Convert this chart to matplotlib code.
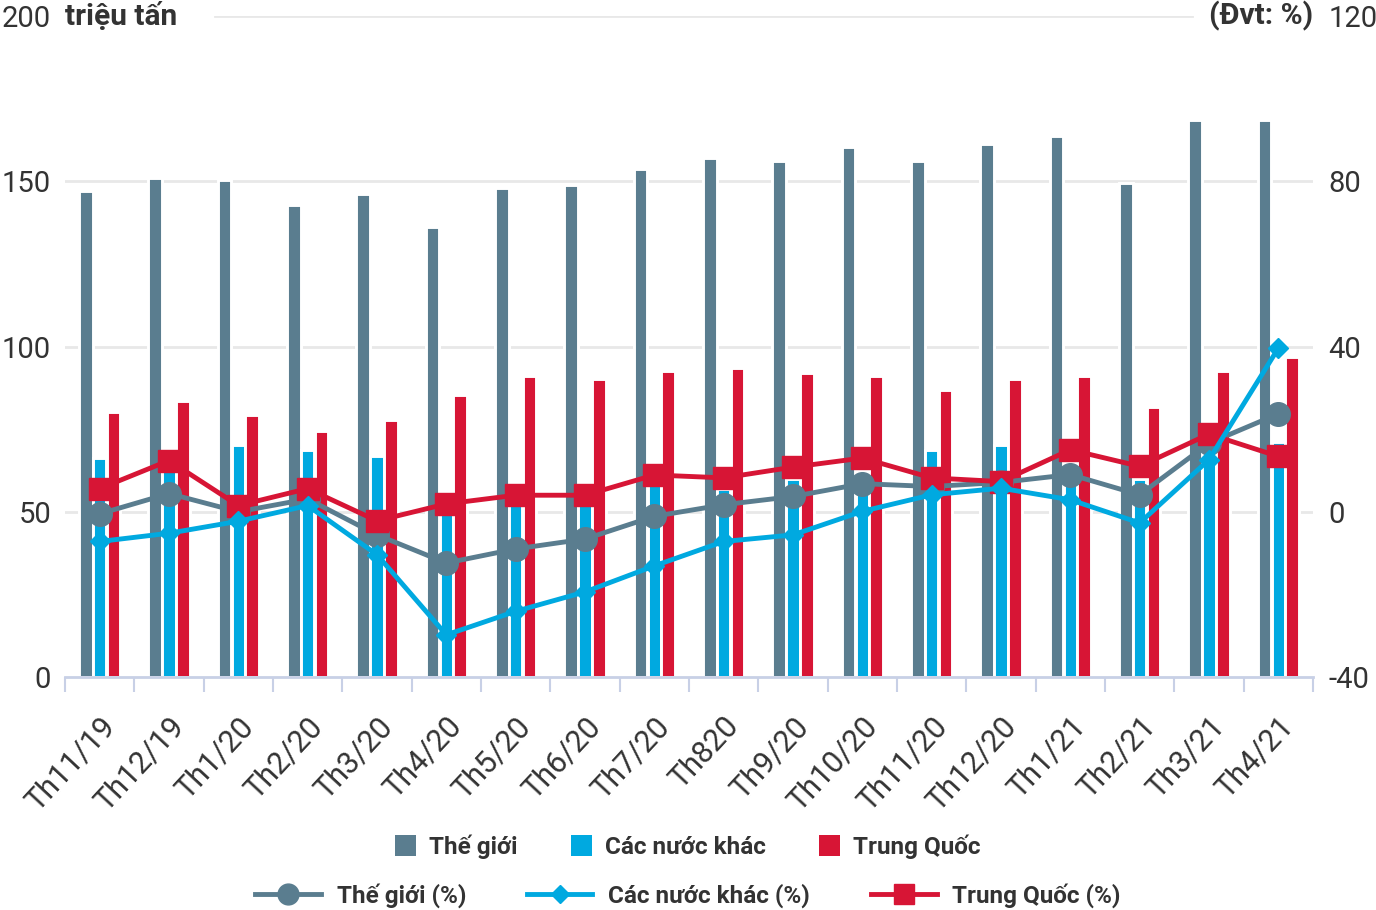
import numpy as np
import matplotlib.pyplot as plt
from matplotlib.patches import Patch
from matplotlib.lines import Line2D
from matplotlib.font_manager import FontProperties

plt.rcParams['font.family'] = ['Roboto', 'DejaVu Sans']
plt.rcParams['axes.unicode_minus'] = False

months = ['Th11/19', 'Th12/19', 'Th1/20', 'Th2/20', 'Th3/20', 'Th4/20', 'Th5/20',
          'Th6/20', 'Th7/20', 'Th820', 'Th9/20', 'Th10/20', 'Th11/20', 'Th12/20',
          'Th1/21', 'Th2/21', 'Th3/21', 'Th4/21']

# san luong (trieu tan)
the_gioi = [147.0, 151.1, 150.3, 142.8, 146.1, 136.2, 147.9, 148.8, 153.6,
            156.9, 156.1, 160.3, 156.1, 161.2, 163.6, 149.5, 168.6, 168.6]
nuoc_khac = [66.2, 64.0, 70.2, 68.6, 66.9, 50.0, 53.0, 53.0, 58.0,
             57.0, 60.0, 62.0, 68.6, 70.1, 63.0, 60.0, 66.0, 71.0]
trung_quoc = [80.3, 83.5, 79.4, 74.4, 77.8, 85.2, 91.1, 90.2, 92.7,
              93.5, 91.9, 91.1, 86.8, 90.2, 91.1, 81.8, 92.7, 96.9]

# tang truong (%)
the_gioi_pct = [-0.5, 4.4, 0.0, 3.1, -5.6, -12.4, -9.0, -6.6, -1.1,
                1.7, 3.7, 6.8, 6.1, 7.1, 9.0, 4.1, 16.6, 23.7]
nuoc_khac_pct = [-7.2, -5.2, -2.3, 1.5, -10.4, -29.8, -24.1, -19.4, -13.1,
                 -7.2, -5.6, 0.1, 4.1, 5.7, 2.9, -2.7, 12.6, 39.6]
trung_quoc_pct = [5.6, 12.4, 1.5, 5.6, -2.2, 1.9, 4.0, 4.0, 8.9,
                  8.2, 10.8, 13.0, 8.2, 7.3, 15.0, 11.0, 18.8, 13.4]

c_tg = '#5a7d8f'
c_nk = '#00a9e0'
c_tq = '#d71535'
txt = '#333333'
axis_c = '#c8d0e6'
grid_c = '#e8e8e8'

x = np.arange(len(months))

fig = plt.figure(figsize=(13.76, 9.10), dpi=100)
ax = fig.add_axes([65/1376, 233/910, 1248/1376, 661/910])

w = 0.195
ax.bar(x - 0.2, the_gioi, w, color=c_tg, edgecolor='white', linewidth=2.1, zorder=2)
ax.bar(x, nuoc_khac, w, color=c_nk, edgecolor='white', linewidth=2.1, zorder=2)
ax.bar(x + 0.2, trung_quoc, w, color=c_tq, edgecolor='white', linewidth=2.1, zorder=2)

ax.set_xlim(-0.5, len(months) - 0.5)
ax.set_ylim(0, 200)
ax.set_yticks([0, 50, 100, 150, 200])
# gridlines; top one leaves room for the unit labels
for yv in [50, 100, 150]:
    ax.axhline(yv, color=grid_c, linewidth=2, zorder=0)
ax.axhline(200, xmin=0.12, xmax=0.903, color=grid_c, linewidth=2, zorder=0)

for s in ['top', 'left', 'right']:
    ax.spines[s].set_visible(False)
ax.spines['bottom'].set_color(axis_c)
ax.spines['bottom'].set_linewidth(2)
ax.tick_params(axis='y', length=0, pad=10, labelsize=21, labelcolor=txt)

ax.set_xticks(x)
ax.set_xticklabels(months, rotation=47, ha='right', va='top', rotation_mode='anchor',
                   fontsize=22, color=txt)
ax.tick_params(axis='x', which='major', length=0, pad=25)
ax.set_xticks(np.arange(len(months) + 1) - 0.5, minor=True)
ax.tick_params(axis='x', which='minor', length=11, width=1.5, color=axis_c)

ax2 = ax.twinx()
ax2.set_ylim(-40, 120)
ax2.set_yticks([-40, 0, 40, 80, 120])
for s in ax2.spines.values():
    s.set_visible(False)
ax2.tick_params(axis='y', length=0, pad=11, labelsize=21, labelcolor=txt)

ax2.plot(x, the_gioi_pct, color=c_tg, lw=3.5, marker='o', markersize=17, zorder=3)
ax2.plot(x, trung_quoc_pct, color=c_tq, lw=3.5, marker='s', markersize=16, zorder=4)
ax2.plot(x, nuoc_khac_pct, color=c_nk, lw=3.5, marker='D', markersize=10, zorder=5)

bold = FontProperties(family='Roboto', weight='bold', size=21.5)
ax.text(0, 200, 'triệu tấn', fontproperties=bold, color=txt, ha='left', va='center',
        transform=ax.get_yaxis_transform())
ax.text(1, 200, '(Đvt: %)', fontproperties=bold, color=txt, ha='right', va='center',
        transform=ax.get_yaxis_transform())

leg_font = FontProperties(family='Roboto', weight='bold', size=17.5)
h1 = [Patch(facecolor=c_tg), Patch(facecolor=c_nk), Patch(facecolor=c_tq)]
fig.legend(h1, ['Thế giới', 'Các nước khác', 'Trung Quốc'], loc='center',
           bbox_to_anchor=(0.5, 0.07), ncol=3, frameon=False, prop=leg_font,
           labelcolor=txt, handlelength=0.85, handleheight=0.95,
           handletextpad=0.55, columnspacing=2.2)
h2 = [Line2D([], [], color=c_tg, lw=3.5, marker='o', markersize=15),
      Line2D([], [], color=c_nk, lw=3.5, marker='D', markersize=9),
      Line2D([], [], color=c_tq, lw=3.5, marker='s', markersize=14)]
fig.legend(h2, ['Thế giới (%)', 'Các nước khác (%)', 'Trung Quốc (%)'], loc='center',
           bbox_to_anchor=(0.5, 0.016), ncol=3, frameon=False, prop=leg_font,
           labelcolor=txt, handlelength=2.7, handletextpad=0.65, columnspacing=2.5)

fig.savefig('out.png', dpi=100)
